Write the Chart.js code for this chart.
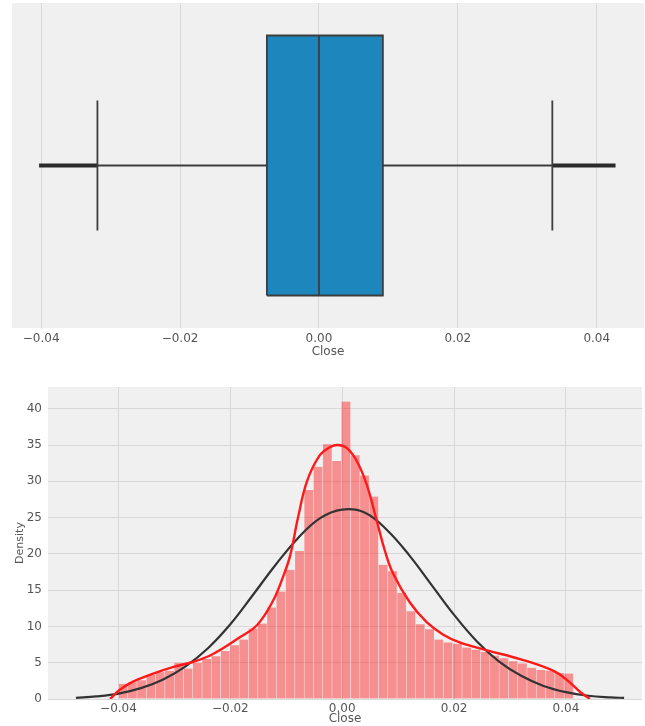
<!DOCTYPE html>
<html>
<head>
    <title>Close distribution</title>
    <script src="https://cdn.jsdelivr.net/npm/chart.js"></script>
    <style>
        body { margin: 0; background: #fff; }
        #wrap { position: relative; width: 645px; height: 726px; }
        #boxChart { position: absolute; left: 0; top: 0; }
        #distChart { position: absolute; left: 0; top: 370px; }
    </style>
</head>
<body>
<div id="wrap">
    <canvas id="boxChart" width="645" height="361"></canvas>
    <canvas id="distChart" width="645" height="356"></canvas>
</div>
<script>
    // box plot summary
    const boxQuartiles = [-0.0075, 0.0000, 0.0092];   // q1, median, q3
    const boxWhiskers = [-0.0319, 0.0336];
    const boxOutlierEnds = [-0.0403, 0.0427];

    const xTicks = [-0.04, -0.02, 0.00, 0.02, 0.04];
    const densityTicks = [0, 5, 10, 15, 20, 25, 30, 35, 40];

    // histogram (density per bin)
    const histStart = -0.0400;
    const histBinWidth = 0.00166;
    const histDensity = [
        2.1, 2.3, 2.6, 3.3, 3.7, 3.9, 5.0, 4.2, 5.0, 5.5,
        5.9, 6.6, 7.4, 8.2, 9.7, 10.4, 12.6, 14.8, 17.8, 20.4,
        28.8, 32.0, 35.1, 32.8, 41.0, 33.6, 30.8, 27.9, 18.5, 17.6,
        14.6, 12.1, 10.3, 9.6, 8.2, 7.8, 7.6, 7.1, 6.8, 6.5,
        6.0, 5.6, 5.2, 4.9, 4.3, 4.0, 3.9, 3.6, 3.5
    ];

    // kde curve (red)
    const kdeX = [-0.0415, -0.0397, -0.0374, -0.0338, -0.0303, -0.0267, -0.0231, -0.0183, -0.0152, -0.0124,
                  -0.0106, -0.0093, -0.0079, -0.0063, -0.0040, -0.0022, -0.0008, 0.0008, 0.0026, 0.0044,
                  0.0062, 0.0076, 0.0091, 0.0121, 0.0151, 0.0180, 0.0210, 0.0259, 0.0318, 0.0377,
                  0.0402, 0.0425, 0.0443];
    const kdeY = [0.0, 1.3, 2.4, 3.5, 4.4, 5.1, 6.2, 8.5, 10.2, 13.5,
                  16.8, 19.8, 25.0, 30.0, 33.6, 34.7, 35.0, 34.6, 32.8, 29.5,
                  24.5, 20.5, 17.3, 13.3, 10.6, 8.9, 7.8, 6.7, 5.5, 3.9,
                  2.6, 1.0, 0.0];

    // fitted normal curve (black)
    const normX = [-0.0476, -0.044, -0.040, -0.036, -0.032, -0.028, -0.024, -0.020, -0.016, -0.012,
                   -0.008, -0.004, 0.000, 0.004, 0.008, 0.012, 0.016, 0.020, 0.024,
                   0.028, 0.032, 0.036, 0.040, 0.044, 0.048, 0.0504];
    const normY = [0.15, 0.35, 0.75, 1.5, 2.7, 4.5, 7.0, 10.3, 14.3, 18.4,
                   22.1, 24.9, 26.1, 25.7, 23.3, 19.8, 15.7, 11.6, 8.0,
                   5.2, 3.2, 1.8, 0.95, 0.45, 0.22, 0.15];

    Chart.defaults.font.family = "'DejaVu Sans', sans-serif";
    Chart.defaults.font.size = 12;
    Chart.defaults.color = '#555';

    const panelBg = {
        id: 'panelBg',
        beforeDraw(chart) {
            const a = chart.chartArea, ctx = chart.ctx;
            ctx.save();
            ctx.fillStyle = '#f0f0f0';
            ctx.fillRect(a.left, a.top, a.right - a.left, a.bottom - a.top);
            ctx.restore();
        }
    };

    function fmtTick(v) {
        const s = Math.abs(v).toFixed(2);
        return v < -1e-9 ? '\u2212' + s : s;
    }

    function seg(x0, y0, x1, y1) {
        return [{ x: x0, y: y0 }, { x: x1, y: y1 }];
    }

    // ---- top: box plot ----
    const [q1, med, q3] = boxQuartiles;
    const lineStyle = { showLine: true, pointRadius: 0, borderColor: '#3d3d3d', borderWidth: 1.8, fill: false };

    new Chart(document.getElementById('boxChart'), {
        type: 'scatter',
        data: {
            datasets: [
                Object.assign({ data: seg(med, -0.4, med, 0.4) }, lineStyle),
                {
                    data: [{ x: q1, y: -0.4 }, { x: q3, y: -0.4 }, { x: q3, y: 0.4 }, { x: q1, y: 0.4 }, { x: q1, y: -0.4 }],
                    showLine: true, pointRadius: 0, fill: 'shape',
                    backgroundColor: '#1c86bd', borderColor: '#3d3d3d', borderWidth: 1.8
                },
                Object.assign({ data: seg(boxWhiskers[0], 0, q1, 0) }, lineStyle),
                Object.assign({ data: seg(q3, 0, boxWhiskers[1], 0) }, lineStyle),
                Object.assign({ data: seg(boxWhiskers[0], -0.2, boxWhiskers[0], 0.2) }, lineStyle),
                Object.assign({ data: seg(boxWhiskers[1], -0.2, boxWhiskers[1], 0.2) }, lineStyle),
                Object.assign({}, lineStyle, { data: seg(boxOutlierEnds[0], 0, boxWhiskers[0], 0), borderWidth: 4, borderColor: '#2b2b2b' }),
                Object.assign({}, lineStyle, { data: seg(boxWhiskers[1], 0, boxOutlierEnds[1], 0), borderWidth: 4, borderColor: '#2b2b2b' })
            ]
        },
        options: {
            responsive: false,
            animation: false,
            layout: { padding: { left: 12, right: 1, top: 3, bottom: 0 } },
            plugins: { legend: { display: false }, tooltip: { enabled: false } },
            scales: {
                x: {
                    type: 'linear', min: -0.0442, max: 0.0468,
                    afterBuildTicks: s => { s.ticks = xTicks.map(v => ({ value: v })); },
                    afterFit: s => { s.height = 33; },
                    grid: { color: '#d8d8d8', drawTicks: false },
                    border: { display: false },
                    ticks: { padding: 4, callback: v => fmtTick(v), maxRotation: 0 },
                    title: { display: true, text: 'Close', padding: { top: 2, bottom: 2 } }
                },
                y: { type: 'linear', min: -0.5, max: 0.5, display: false }
            }
        },
        plugins: [panelBg]
    });

    // ---- bottom: histogram + kde + normal ----
    const histData = histDensity.map((d, i) => ({ x: histStart + histBinWidth * (i + 0.5), y: d }));

    new Chart(document.getElementById('distChart'), {
        type: 'bar',
        data: {
            datasets: [
                {
                    type: 'line', order: 0,
                    data: kdeX.map((x, i) => ({ x: x, y: kdeY[i] })),
                    borderColor: '#ff1a1a', borderWidth: 2.4, pointRadius: 0,
                    tension: 0.4, fill: false
                },
                {
                    type: 'line', order: 1,
                    data: normX.map((x, i) => ({ x: x, y: normY[i] })),
                    borderColor: '#333', borderWidth: 2.2, pointRadius: 0,
                    tension: 0.4, fill: false
                },
                {
                    type: 'bar', order: 2,
                    data: histData,
                    backgroundColor: 'rgba(255, 0, 0, 0.4)',
                    borderColor: 'rgba(255, 255, 255, 0.35)',
                    borderWidth: { left: 0.5, right: 0.5, top: 0, bottom: 0 },
                    barPercentage: 1, categoryPercentage: 1
                }
            ]
        },
        options: {
            responsive: false,
            animation: false,
            layout: { padding: { left: 0, right: 3, top: 17, bottom: 0 } },
            plugins: { legend: { display: false }, tooltip: { enabled: false } },
            scales: {
                x: {
                    type: 'linear', min: -0.0526, max: 0.0536, offset: false,
                    afterBuildTicks: s => { s.ticks = xTicks.map(v => ({ value: v })); },
                    afterFit: s => { s.height = 27; },
                    grid: { color: '#d8d8d8', drawTicks: false, offset: false },
                    border: { display: false },
                    ticks: { padding: 3, callback: v => fmtTick(v), maxRotation: 0 },
                    title: { display: true, text: 'Close', padding: { top: 0, bottom: 0 } }
                },
                y: {
                    min: 0, max: 43,
                    afterBuildTicks: s => { s.ticks = densityTicks.map(v => ({ value: v })); },
                    afterFit: s => { s.width = 48; },
                    grid: { color: '#d8d8d8', drawTicks: false },
                    border: { display: false },
                    ticks: { padding: 6 },
                    title: { display: true, text: 'Density', font: { size: 11 }, padding: { top: 14, bottom: 0 } }
                }
            }
        },
        plugins: [panelBg]
    });
</script>
</body>
</html>
